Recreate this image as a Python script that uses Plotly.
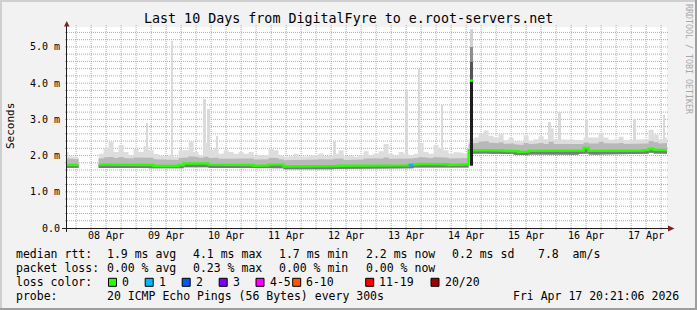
import plotly.graph_objects as go
from datetime import datetime, timedelta

# ---------------- data ----------------
TITLE = "Last 10 Days from DigitalFyre to e.root-servers.net"
Y_LABEL = "Seconds"
WATERMARK = "RRDTOOL / TOBI OETIKER"
RANGE_START = "2026-04-07 20:21:06"
RANGE_END = "2026-04-17 20:21:06"

BIN_ORIGIN = "2026-04-07 19:00:00"
BIN_HOURS = 2

# median rtt per 2h bin (ms); None = no data
MEDIAN = [1.74, 1.74, 1.74, None, None, None, None,
          1.75, 1.75, 1.74, 1.75, 1.75, 1.75, 1.75, 1.76, 1.76, 1.76,
          1.74, 1.71, 1.71, 1.71, 1.71, 1.71, 1.74, 1.78, 1.79, 1.80,
          1.79, 1.78, 1.75, 1.75, 1.74, 1.75, 1.75, 1.75, 1.74, 1.75,
          1.74, 1.72, 1.72, 1.73, 1.75, 1.76, 1.75, 1.70, 1.69, 1.69,
          1.69, 1.70, 1.69, 1.69, 1.71, 1.71, 1.70, 1.71, 1.72, 1.71,
          1.71, 1.71, 1.72, 1.73, 1.72, 1.71, 1.72, 1.72, 1.73, 1.72,
          1.72, 1.73, 1.74, 1.76, 1.77, 1.78, 1.77, 1.78, 1.76, 1.76,
          1.74, 1.76, 1.76, 1.76,
          2.15, 2.15, 2.15, 2.16, 2.15, 2.14, 2.14, 2.13, 2.14, 2.12,
          2.10, 2.11, 2.13, 2.13, 2.14, 2.13, 2.13, 2.12, 2.13, 2.13,
          2.13, 2.12, 2.14, 2.21, 2.13, 2.12, 2.13, 2.13, 2.14, 2.14,
          2.13, 2.14, 2.13, 2.14, 2.14, 2.15, 2.19, 2.16, 2.15, 2.15]

# fastest ping per bin (bottom of smoke)
LOW = [1.66, 1.66, 1.66, None, None, None, None,
       1.66, 1.66, 1.65, 1.66, 1.66, 1.66, 1.66, 1.67, 1.67, 1.66,
       1.65, 1.63, 1.63, 1.63, 1.63, 1.63, 1.65, 1.68, 1.69, 1.69,
       1.68, 1.68, 1.66, 1.66, 1.65, 1.66, 1.66, 1.66, 1.65, 1.66,
       1.65, 1.64, 1.64, 1.64, 1.66, 1.66, 1.65, 1.62, 1.61, 1.61,
       1.61, 1.62, 1.61, 1.61, 1.63, 1.63, 1.62, 1.63, 1.64, 1.63,
       1.63, 1.63, 1.64, 1.64, 1.64, 1.63, 1.64, 1.64, 1.64, 1.64,
       1.64, 1.64, 1.65, 1.67, 1.68, 1.68, 1.68, 1.68, 1.67, 1.67,
       1.66, 1.67, 1.67, 1.67,
       2.05, 2.05, 2.05, 2.06, 2.05, 2.04, 2.04, 2.03, 2.04, 2.02,
       2.00, 2.01, 2.03, 2.03, 2.04, 2.03, 2.03, 2.02, 2.03, 2.03,
       2.03, 2.02, 2.04, 2.06, 2.03, 2.02, 2.03, 2.03, 2.04, 2.04,
       2.03, 2.04, 2.03, 2.04, 2.04, 2.05, 2.08, 2.06, 2.05, 2.05]

# upper edge of the dense smoke per bin
UPPER = [1.92, 1.90, 1.90, None, None, None, None,
         1.92, 1.95, 1.97, 1.93, 1.96, 1.93, 1.92, 1.95, 1.94, 1.96,
         1.94, 1.90, 1.89, 1.88, 1.90, 1.88, 1.93, 1.95, 1.98, 1.96,
         1.94, 1.97, 1.93, 1.94, 1.91, 1.93, 1.92, 1.91, 1.92, 1.91,
         1.92, 1.89, 1.90, 1.90, 1.94, 1.93, 1.90, 1.87, 1.88, 1.89,
         1.87, 1.88, 1.88, 1.89, 1.90, 1.88, 1.89, 1.91, 1.92, 1.88,
         1.89, 1.88, 1.89, 1.92, 1.90, 1.90, 1.92, 1.95, 1.91, 1.90,
         1.92, 1.91, 1.92, 1.93, 1.96, 1.94, 1.93, 1.96, 1.95, 1.94,
         1.92, 1.93, 1.93, 1.93,
         2.33, 2.35, 2.38, 2.40, 2.36, 2.34, 2.37, 2.32, 2.34, 2.31,
         2.29, 2.35, 2.31, 2.33, 2.35, 2.32, 2.38, 2.32, 2.33, 2.32,
         2.32, 2.33, 2.32, 2.36, 2.33, 2.33, 2.38, 2.34, 2.32, 2.33,
         2.35, 2.32, 2.33, 2.34, 2.32, 2.33, 2.40, 2.37, 2.33, 2.35]

# slowest ping per bin (top of light smoke)
TOP = [2.10, 1.98, 1.97, None, None, None, None,
       2.05, 2.20, 2.38, 2.10, 2.29, 2.10, 2.00, 2.18, 2.10, 2.26,
       2.15, 2.05, 2.00, 1.98, 2.02, 1.97, 2.15, 2.15, 2.38, 2.10,
       2.00, 2.35, 2.15, 2.20, 2.05, 2.15, 2.10, 2.05, 2.10, 2.05,
       2.10, 1.98, 2.02, 2.00, 2.18, 2.15, 2.00, 1.97, 1.98, 2.05,
       1.98, 1.97, 2.00, 2.02, 2.06, 1.98, 2.00, 2.05, 2.15, 1.98,
       2.00, 1.97, 2.00, 2.12, 2.00, 2.05, 2.12, 2.32, 2.05, 2.00,
       2.10, 2.05, 2.00, 2.05, 2.35, 2.10, 2.05, 2.30, 2.20, 2.15,
       2.05, 2.10, 2.08, 2.05,
       2.45, 2.50, 2.60, 2.69, 2.55, 2.50, 2.60, 2.42, 2.49, 2.40,
       2.38, 2.56, 2.40, 2.45, 2.53, 2.45, 2.75, 2.45, 2.45, 2.43,
       2.43, 2.45, 2.43, 2.50, 2.50, 2.50, 2.63, 2.50, 2.43, 2.45,
       2.52, 2.43, 2.45, 2.45, 2.43, 2.45, 2.71, 2.58, 2.45, 2.50]

# bins with packet loss (bin start, lost pings)
LOSS_TIMES = ["2026-04-13 13:00:00"]
LOSS_COUNTS = [1]

# short isolated slow pings
SPIKE_TIMES = ["2026-04-09 04:21", "2026-04-09 14:21", "2026-04-10 03:21", "2026-04-10 04:52",
               "2026-04-10 08:21", "2026-04-12 07:21", "2026-04-13 12:09", "2026-04-13 17:09",
               "2026-04-14 02:21", "2026-04-15 21:21", "2026-04-16 01:21", "2026-04-16 12:09",
               "2026-04-17 07:21", "2026-04-17 19:09"]
SPIKE_TOPS = [2.91, 5.15, 3.57, 3.28, 2.54, 2.41, 3.80, 4.38, 3.40, 2.94, 3.21, 3.00, 3.00, 3.12]

# route change sample
JUMP_TIME = "2026-04-14 14:09"
JUMP_LEVELS = [1.72, 4.07, 4.60, 5.00, 5.49]
JUMP_MEDIAN = 4.07

Y_TICKS = [0, 1, 2, 3, 4, 5]
Y_TICK_LABELS = ["0.0", "1.0 m", "2.0 m", "3.0 m", "4.0 m", "5.0 m"]
X_TICKS = ["2026-04-%02d 12:00" % d for d in range(8, 18)]
X_TICK_LABELS = ["08 Apr", "09 Apr", "10 Apr", "11 Apr", "12 Apr",
                 "13 Apr", "14 Apr", "15 Apr", "16 Apr", "17 Apr"]

RTT_STATS = ["1.9 ms avg", "4.1 ms max", "1.7 ms min", "2.2 ms now", "0.2 ms sd", "7.8  am/s"]
LOSS_STATS = ["0.00 % avg", "0.23 % max", "0.00 % min", "0.00 % now"]
LOSS_LABELS = ["0", "1", "2", "3", "4-5", "6-10", "11-19", "20/20"]
LOSS_COLORS = ["#26ff00", "#00b8ff", "#0059ff", "#7e00ff", "#ff00ff", "#ff5500", "#ff0000", "#a10000"]
PROBE_TEXT = "20 ICMP Echo Pings (56 Bytes) every 300s"
TIMESTAMP = "Fri Apr 17 20:21:06 2026"

# ---------------- layout geometry ----------------
W, H = 697, 310
PL, PR, PT, PB = 67, 667, 27, 228
Y_MAX = 5.55
MONO = "DejaVu Sans Mono"
LEG_FONT = 11.5


def px(x):
    return (x - PL) / (PR - PL)


def py(y):
    return (PB - y) / (PB - PT)


def T(s):
    return datetime.fromisoformat(s)


origin = T(BIN_ORIGIN)
step = timedelta(hours=BIN_HOURS)


def segments(values):
    segs, cur = [], []
    for i, v in enumerate(values):
        if v is None:
            if cur:
                segs.append(cur)
            cur = []
        else:
            cur.append(i)
    if cur:
        segs.append(cur)
    return segs


def step_line(idx, vals):
    xs, ys = [], []
    for i in idx:
        xs += [origin + step * i, origin + step * (i + 1)]
        ys += [vals[i], vals[i]]
    return xs, ys


def band(idx, lo, hi):
    x1, y1 = step_line(idx, hi)
    x2, y2 = step_line(idx, lo)
    return x1 + x2[::-1], y1 + y2[::-1]


fig = go.Figure()

# spikes (under the smoke)
sp_base = []
for s in SPIKE_TIMES:
    i = int((T(s) - origin) / step)
    sp_base.append(UPPER[i])
fig.add_trace(go.Bar(x=[T(s) for s in SPIKE_TIMES],
                     y=[t - b for t, b in zip(SPIKE_TOPS, sp_base)], base=sp_base,
                     width=3900000, marker=dict(color="#DADADA", line=dict(width=0)),
                     hoverinfo="skip", showlegend=False))

segs = segments(MEDIAN)
for seg in segs:
    for lo, hi, col in [(LOW, TOP, "#DDDDDD"), (LOW, UPPER, "#B8B8B8"), (LOW, MEDIAN, "#7A7A7A")]:
        xs, ys = band(seg, lo, hi)
        fig.add_trace(go.Scatter(x=xs, y=ys, mode="lines", fill="toself", fillcolor=col,
                                 line=dict(width=0, color=col), hoverinfo="skip", showlegend=False))

# median line
for seg in segs:
    xs, ys = step_line(seg, MEDIAN)
    fig.add_trace(go.Scatter(x=xs, y=ys, mode="lines", line=dict(color=LOSS_COLORS[0], width=2.4),
                             hoverinfo="skip", showlegend=False))

# loss-coloured median pieces
loss_bins = [0, 1, 2, 3, 5, 10, 19, 20]
for ts, n in zip(LOSS_TIMES, LOSS_COUNTS):
    i = int((T(ts) - origin) / step)
    ci = next(k for k, lim in enumerate(loss_bins) if n <= lim)
    xs, ys = step_line([i], MEDIAN)
    fig.add_trace(go.Scatter(x=xs, y=ys, mode="lines", line=dict(color=LOSS_COLORS[ci], width=2.4),
                             hoverinfo="skip", showlegend=False))

# route-change column
jt = T(JUMP_TIME)
half = timedelta(minutes=36)
jcols = ["#1E1E1E", "#555555", "#8E8E8E", "#D0D0D0"]
for k, col in enumerate(jcols):
    lo, hi = JUMP_LEVELS[k], JUMP_LEVELS[k + 1]
    fig.add_trace(go.Scatter(x=[jt - half, jt + half, jt + half, jt - half, jt - half],
                             y=[lo, lo, hi, hi, lo], mode="lines", fill="toself", fillcolor=col,
                             line=dict(width=0, color=col), hoverinfo="skip", showlegend=False))
fig.add_trace(go.Scatter(x=[jt - half, jt + half], y=[JUMP_MEDIAN, JUMP_MEDIAN], mode="lines",
                         line=dict(color=LOSS_COLORS[0], width=2.4), hoverinfo="skip", showlegend=False))

shapes = []
GRID = "rgb(172,172,172)"
MGRID = "rgb(235,150,150)"
DASH = "1px,1px"
# horizontal grid
for k in range(1, 28):
    v = k * 0.2
    if v > Y_MAX:
        break
    major = k % 5 == 0
    shapes.append(dict(type="line", xref="paper", yref="y", x0=px(PL - 2), x1=px(PR + 2), y0=v, y1=v,
                       line=dict(color=MGRID if major else GRID, width=1, dash=DASH), layer="below"))
# vertical grid
t0 = datetime(2026, 4, 8, 0, 0)
for k in range(0, 41):
    tt = t0 + timedelta(hours=6 * k)
    if tt > T(RANGE_END):
        break
    major = k % 4 == 0
    shapes.append(dict(type="line", xref="x", yref="paper", x0=tt, x1=tt, y0=py(PB + 2), y1=py(PT - 2),
                       line=dict(color=MGRID if major else GRID, width=1, dash=DASH), layer="below"))
AXIS = "#1F1F1F"
shapes.append(dict(type="line", xref="paper", yref="paper", x0=px(62), x1=px(672), y0=py(228.5), y1=py(228.5),
                   line=dict(color=AXIS, width=1)))
shapes.append(dict(type="line", xref="paper", yref="paper", x0=px(66.5), x1=px(66.5), y0=py(232), y1=py(23),
                   line=dict(color=AXIS, width=1)))
ARROW = "#801F1F"


def path(pts):
    return "M " + " L ".join("%f,%f" % (px(a), py(b)) for a, b in pts) + " Z"


shapes.append(dict(type="path", xref="paper", yref="paper", path=path([(64, 26.5), (69.5, 26.5), (66.75, 21)]),
                   fillcolor=ARROW, line=dict(width=0)))
shapes.append(dict(type="path", xref="paper", yref="paper", path=path([(668, 225.5), (668, 231.5), (674.5, 228.5)]),
                   fillcolor=ARROW, line=dict(width=0)))
# frame shading
shapes.append(dict(type="rect", xref="paper", yref="paper", x0=px(0), x1=px(W), y0=py(0), y1=py(2),
                   fillcolor="#CFCFCF", line=dict(width=0)))
shapes.append(dict(type="rect", xref="paper", yref="paper", x0=px(0), x1=px(2), y0=py(0), y1=py(H),
                   fillcolor="#CFCFCF", line=dict(width=0)))
shapes.append(dict(type="rect", xref="paper", yref="paper", x0=px(0), x1=px(W), y0=py(H - 2), y1=py(H),
                   fillcolor="#9E9E9E", line=dict(width=0)))
shapes.append(dict(type="rect", xref="paper", yref="paper", x0=px(W - 2), x1=px(W), y0=py(0), y1=py(H),
                   fillcolor="#9E9E9E", line=dict(width=0)))

ann = []


def text(x, y, s, size=LEG_FONT, color="#000000", anchor="left", angle=0):
    ann.append(dict(x=px(x), y=py(y), xref="paper", yref="paper", text=s, showarrow=False,
                    xanchor=anchor, yanchor="middle", textangle=angle, borderpad=0, borderwidth=0,
                    font=dict(family=MONO, size=size, color=color)))


text(348, 19, TITLE, size=13.33, anchor="center")
text(10, 126, Y_LABEL, size=11, anchor="center", angle=-90)
text(689, 59, WATERMARK, size=8.3, color="#A8A8A8", anchor="center", angle=90)

COLS = [107, 193, 279, 366, 452, 538]
text(16, 254, "median rtt:")
for c, s in zip(COLS, RTT_STATS):
    text(c, 254, s)
text(16, 268, "packet loss:")
for c, s in zip(COLS, LOSS_STATS):
    text(c, 268, s)
text(16, 282, "loss color:")
SW = [108.5, 145.2, 182.2, 219.2, 256, 292.7, 365.7, 431]
for sx, lab, col in zip(SW, LOSS_LABELS, LOSS_COLORS):
    shapes.append(dict(type="rect", xref="paper", yref="paper", x0=px(sx), x1=px(sx + 8),
                       y0=py(278.3), y1=py(286.3), fillcolor=col, line=dict(color="#000000", width=1)))
    text(sx + 13.5, 282, lab)
text(16, 296, "probe:")
text(107, 296, PROBE_TEXT)
text(513, 296, TIMESTAMP)

fig.update_layout(
    width=W, height=H,
    margin=dict(l=PL, r=W - PR, t=PT, b=H - PB, pad=0),
    paper_bgcolor="#F2F2F2", plot_bgcolor="#FFFFFF",
    barmode="overlay", bargap=0,
    showlegend=False,
    shapes=shapes, annotations=ann,
    xaxis=dict(type="date", range=[RANGE_START, RANGE_END], showgrid=False, zeroline=False,
               showline=False, tickmode="array", tickvals=X_TICKS, ticktext=X_TICK_LABELS,
               ticks="", tickfont=dict(family=MONO, size=10, color="#000000"), fixedrange=True),
    yaxis=dict(range=[0, Y_MAX], showgrid=False, zeroline=False, showline=False,
               tickmode="array", tickvals=Y_TICKS, ticktext=Y_TICK_LABELS, ticks="",
               ticklabelstandoff=6,
               tickfont=dict(family=MONO, size=10, color="#000000"), fixedrange=True),
)

fig.write_html("out.html")
